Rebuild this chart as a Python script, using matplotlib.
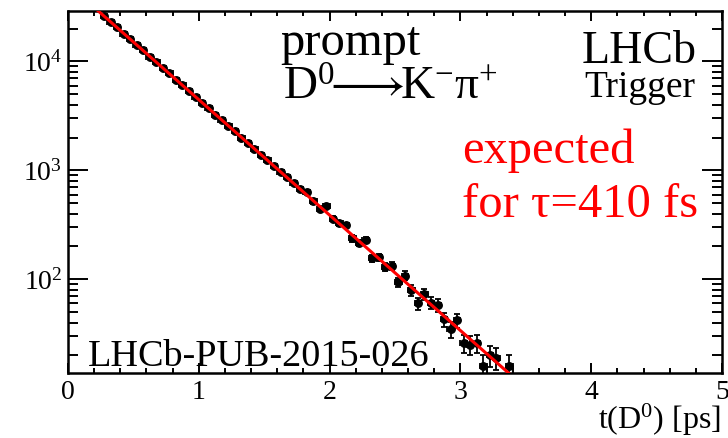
import numpy as np
import matplotlib
matplotlib.use("Agg")
import matplotlib.pyplot as plt
from matplotlib.ticker import LogLocator, LogFormatterMathtext, MultipleLocator, NullFormatter

plt.rcParams['font.family'] = ['Liberation Serif', 'DejaVu Serif', 'DejaVu Sans']
plt.rcParams['mathtext.fontset'] = 'custom'
plt.rcParams['mathtext.rm'] = 'Liberation Serif'
plt.rcParams['mathtext.it'] = 'Liberation Serif:italic'
plt.rcParams['mathtext.bf'] = 'Liberation Serif:bold'
plt.rcParams['mathtext.fallback'] = 'stix'

# decay-time bin centres [ps]
t_bins = [0.275, 0.325, 0.375, 0.425, 0.475, 0.525, 0.575, 0.625, 0.675, 0.725,
          0.775, 0.825, 0.875, 0.925, 0.975, 1.025, 1.075, 1.125, 1.175, 1.225,
          1.275, 1.325, 1.375, 1.425, 1.475, 1.525, 1.575, 1.625, 1.675, 1.725,
          1.775, 1.825, 1.875, 1.925, 1.975, 2.025, 2.075, 2.125, 2.175, 2.225,
          2.275, 2.325, 2.375, 2.425, 2.475, 2.525, 2.575, 2.625, 2.675, 2.725,
          2.775, 2.825, 2.875, 2.925, 2.975, 3.025, 3.075, 3.125, 3.175, 3.225,
          3.275, 3.375]
# candidates per bin
counts = [26100, 23000, 20500, 18000, 16100, 14100, 12600, 11000, 9850, 8650,
          7750, 6800, 6050, 5300, 4750, 4150, 3720, 3250, 2920, 2550,
          2290, 2000, 1790, 1570, 1370, 1240, 1090, 975, 860, 771,
          670, 633, 518, 440, 466, 361, 327, 314, 237, 215,
          229, 156, 159, 131, 133, 94, 108, 79, 60, 73,
          61, 58, 43, 35, 42, 26, 25, 26, 16, 20,
          19, 16]
bin_half_width = 0.025

# expected exponential (tau = 410 fs)
tau_ps = 0.41
norm = 51000.0

x_ticks = [0, 1, 2, 3, 4, 5]
x_ticklabels = ["0", "1", "2", "3", "4", "5"]

fig = plt.figure(figsize=(7.28, 4.38), dpi=100)
ax = fig.add_axes([68/728, 1-373/438, (722-68)/728, (373-11)/438])

t = np.array(t_bins)
n = np.array(counts, dtype=float)
ax.errorbar(t, n, yerr=np.sqrt(n), xerr=bin_half_width, fmt='o', color='black',
            ms=5.4, elinewidth=1.3, capsize=2.0, capthick=1.3, zorder=2)

tt = np.linspace(0, 5, 500)
ax.plot(tt, norm*np.exp(-tt/tau_ps), color='red', lw=2.2, zorder=3)

ax.set_yscale('log')
ax.set_xlim(0, 5)
ax.set_ylim(13.8, 29000)

ax.set_xticks(x_ticks)
ax.set_xticklabels(x_ticklabels)
ax.xaxis.set_minor_locator(MultipleLocator(0.2))
ax.yaxis.set_major_locator(LogLocator(base=10, numticks=10))
ax.yaxis.set_major_formatter(LogFormatterMathtext())
ax.yaxis.set_minor_locator(LogLocator(base=10, subs=np.arange(2, 10), numticks=20))
ax.yaxis.set_minor_formatter(NullFormatter())

for s in ax.spines.values():
    s.set_linewidth(1.8)

ax.tick_params(axis='both', which='both', direction='in', top=True, right=True,
               width=1.4, labelsize=20)
ax.tick_params(axis='x', which='major', length=7.2, pad=5)
ax.tick_params(axis='x', which='minor', length=3.6)
ax.tick_params(axis='y', which='major', length=14.4, pad=4)
ax.tick_params(axis='y', which='minor', length=7.2)

ax.text(721/728, 1-429/438, r"t(D$^{0}$) [ps]", transform=fig.transFigure,
        ha='right', va='baseline', fontsize=23)

def axfrac(px, py):
    return (px-68)/654, (373-py)/362

x0, y0 = axfrac(280, 55)
ax.text(x0, y0, "prompt", transform=ax.transAxes, fontsize=35, ha='left', va='baseline')
x0, y0 = axfrac(283, 100)
ax.text(x0, y0, r"D$^{0}\!\!\longrightarrow\!\!$K$^{-}$" + "\u03c0" + r"$^{+}$",
        transform=ax.transAxes, fontsize=34, ha='left', va='baseline')
x0, y0 = axfrac(697, 63)
ax.text(x0, y0, "LHCb", transform=ax.transAxes, fontsize=33, ha='right', va='baseline')
x0, y0 = axfrac(695, 97)
ax.text(x0, y0, "Trigger", transform=ax.transAxes, fontsize=27, ha='right', va='baseline')
x0, y0 = axfrac(462, 163)
ax.text(x0, y0, "expected", transform=ax.transAxes, fontsize=35, ha='left',
        va='baseline', color='red')
x0, y0 = axfrac(462, 217)
ax.text(x0, y0, "for τ=410 fs", transform=ax.transAxes, fontsize=35, ha='left',
        va='baseline', color='red')
x0, y0 = axfrac(88, 366)
ax.text(x0, y0, "LHCb-PUB-2015-026", transform=ax.transAxes, fontsize=27.5,
        ha='left', va='baseline')

fig.savefig("out.png", dpi=100, facecolor='white')
